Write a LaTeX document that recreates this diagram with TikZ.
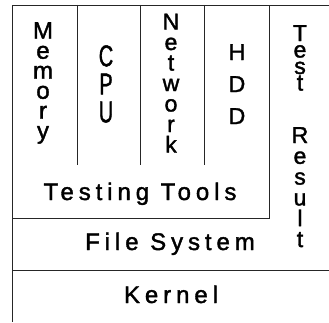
\documentclass[tikz,border=0pt]{standalone}
\usepackage{fontspec}
\setmainfont{Liberation Sans}
\newfontfamily\stackfont{Liberation Sans}[FakeBold=1.6]
\newfontfamily\spacedfont{Liberation Sans}[LetterSpace=20.5, FakeBold=1.6]
\tikzset{
  frame/.style={line width=0.8pt, draw=black!85},
  layer/.style={inner sep=0pt, anchor=base, font=\spacedfont\fontsize{24pt}{24pt}\selectfont},
  stack/.style 2 args={inner sep=0pt, anchor=north, align=center,
    font=\stackfont\fontsize{#1pt}{#2pt}\selectfont,
    execute at begin node={\lineskiplimit=-50pt\relax}}
}
\begin{document}
\begin{tikzpicture}[x=1pt,y=1pt]
  % canvas
  \fill[white] (0,0) rectangle (329,322);
  \useasboundingbox (0,0) rectangle (329,322);

  % outer frame, layer borders and tool columns
  \draw[frame] (329,317) -- (12,317) -- (12,0);
  \draw[frame] (12,104) -- (269,104) -- (269,317);
  \draw[frame] (12,52) -- (329,52);
  \draw[frame] (77,317) -- (77,157);
  \draw[frame] (140,317) -- (140,157);
  \draw[frame] (204,317) -- (204,157);

  % tool columns
  \node[stack={24}{20}] (memory) at (43,300) {M\\e\\m\\o\\r\\y};
  \begin{scope}[shift={(106,277)}, yscale=1.5]
    \node[stack={20}{18.7}, transform shape] (cpu) at (0,0) {C\\P\\U};
  \end{scope}
  \node[stack={23}{20.5}] (network) at (171,308.5) {N\\e\\t\\w\\o\\r\\k};
  \node[stack={23}{32}] (hdd) at (237,278) {H\\D\\D};

  % result column
  \node[stack={23}{16.5}] (test) at (300,297) {T\\e\\s\\t};
  \node[stack={23}{20.8}] (result) at (300,195) {R\\e\\s\\u\\l\\t};

  % layer labels
  \node[layer] (tools) at (140,122) {Testing Tools};
  \node[layer] (fs) at (170,72) {File System};
  \node[layer] (kernel) at (171,19) {Kernel};
\end{tikzpicture}
\end{document}
